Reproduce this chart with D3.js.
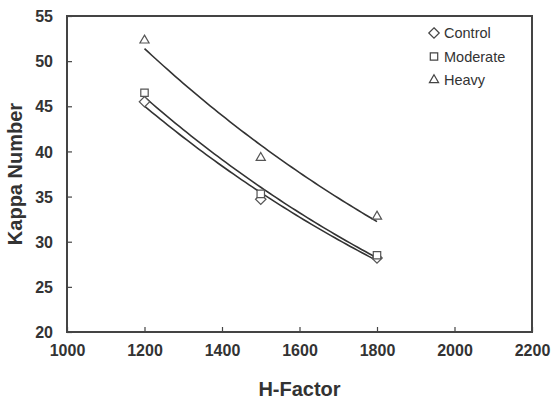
<!DOCTYPE html>
<html>
<head>
<meta charset="utf-8">
<script src="https://cdn.jsdelivr.net/npm/d3@7"></script>
<style>
  body { margin: 0; background: #fff; }
  text { font-family: "Liberation Sans", Arial, sans-serif; fill: #333; }
  .tick text { font-weight: bold; font-size: 16px; }
</style>
</head>
<body>
<div id="chartDiv"></div>
<script>
// values
const hFactor = [1200, 1500, 1800];
const control = [45.5, 34.7, 28.2];
const moderate = [46.5, 35.3, 28.5];
const heavy = [52.3, 39.3, 32.8];
const seriesNames = ["Control", "Moderate", "Heavy"];
const xTicks = [1000, 1200, 1400, 1600, 1800, 2000, 2200];
const yTicks = [20, 25, 30, 35, 40, 45, 50, 55];

const width = 551, height = 403;
const margin = { top: 16, right: 19, bottom: 71, left: 67 };

const svg = d3.select("#chartDiv").append("svg")
    .attr("width", width)
    .attr("height", height);

const x = d3.scaleLinear().domain([1000, 2200]).range([margin.left, width - margin.right]);
const y = d3.scaleLinear().domain([20, 55]).range([height - margin.bottom, margin.top]);

// axes, ticks point inward
const xAxis = d3.axisBottom(x).tickValues(xTicks).tickSize(-5).tickPadding(13).tickFormat(d3.format("d"));
const yAxis = d3.axisLeft(y).tickValues(yTicks).tickSize(-5).tickPadding(14);

svg.append("g")
    .attr("transform", `translate(0,${height - margin.bottom})`)
    .call(xAxis)
    .call(g => g.select(".domain").remove())
    .call(g => g.selectAll(".tick line").attr("stroke", "#444").attr("stroke-width", 1.2))
    .call(g => g.selectAll(".tick text").attr("fill", "#333"));

svg.append("g")
    .attr("transform", `translate(${margin.left},0)`)
    .call(yAxis)
    .call(g => g.select(".domain").remove())
    .call(g => g.selectAll(".tick line").attr("stroke", "#444").attr("stroke-width", 1.2))
    .call(g => g.selectAll(".tick text").attr("fill", "#333").attr("dy", "0.35em"));

// frame
svg.append("rect")
    .attr("x", margin.left)
    .attr("y", margin.top)
    .attr("width", width - margin.left - margin.right)
    .attr("height", height - margin.top - margin.bottom)
    .attr("fill", "none")
    .attr("stroke", "#444")
    .attr("stroke-width", 2);

// axis titles
svg.append("text")
    .attr("x", (margin.left + width - margin.right) / 2)
    .attr("y", 396)
    .attr("text-anchor", "middle")
    .style("font-size", "20px")
    .style("font-weight", "bold")
    .text("H-Factor");

svg.append("text")
    .attr("transform", `translate(22,${(margin.top + height - margin.bottom) / 2}) rotate(-90)`)
    .attr("text-anchor", "middle")
    .style("font-size", "20px")
    .style("font-weight", "bold")
    .text("Kappa Number");

// exponential trendline fitted to each series (like a spreadsheet trendline)
function expFit(xs, ys) {
    const ly = ys.map(Math.log);
    const mx = d3.mean(xs), my = d3.mean(ly);
    const b = d3.sum(xs, (v, i) => (v - mx) * (ly[i] - my)) / d3.sum(xs, v => (v - mx) * (v - mx));
    const a = Math.exp(my - b * mx);
    return v => a * Math.exp(b * v);
}

const series = [
    { name: "Control", values: control, symbol: d3.symbolDiamond2 },
    { name: "Moderate", values: moderate, symbol: d3.symbolSquare2 },
    { name: "Heavy", values: heavy, symbol: d3.symbolTriangle2 }
];

const line = d3.line().x(d => x(d[0])).y(d => y(d[1]));
const xs = d3.range(hFactor[0], hFactor[hFactor.length - 1] + 1, 10);

series.forEach(s => {
    const f = expFit(hFactor, s.values);
    svg.append("path")
        .attr("d", line(xs.map(v => [v, f(v)])))
        .attr("fill", "none")
        .attr("stroke", "#333")
        .attr("stroke-width", 1.6);
});

const sym = d3.symbol();
const symSize = { "Control": 70, "Moderate": 70, "Heavy": 60 };

series.forEach(s => {
    svg.append("g").selectAll("path")
        .data(s.values)
        .join("path")
        .attr("transform", (d, i) => `translate(${x(hFactor[i])},${y(d)})`)
        .attr("d", sym.type(s.symbol).size(symSize[s.name])())
        .attr("fill", "#fff")
        .attr("stroke", "#555")
        .attr("stroke-width", 1.2);
});

// legend
const legend = svg.append("g").attr("transform", "translate(434,33)");
series.forEach((s, i) => {
    const g = legend.append("g").attr("transform", `translate(0,${i * 23.5})`);
    g.append("path")
        .attr("d", d3.symbol().type(s.symbol).size(symSize[s.name])())
        .attr("fill", "#fff")
        .attr("stroke", "#444")
        .attr("stroke-width", 1.2);
    g.append("text")
        .attr("x", 10)
        .attr("dy", "0.35em")
        .style("font-size", "14.5px")
        .text(s.name);
});
</script>
</body>
</html>
